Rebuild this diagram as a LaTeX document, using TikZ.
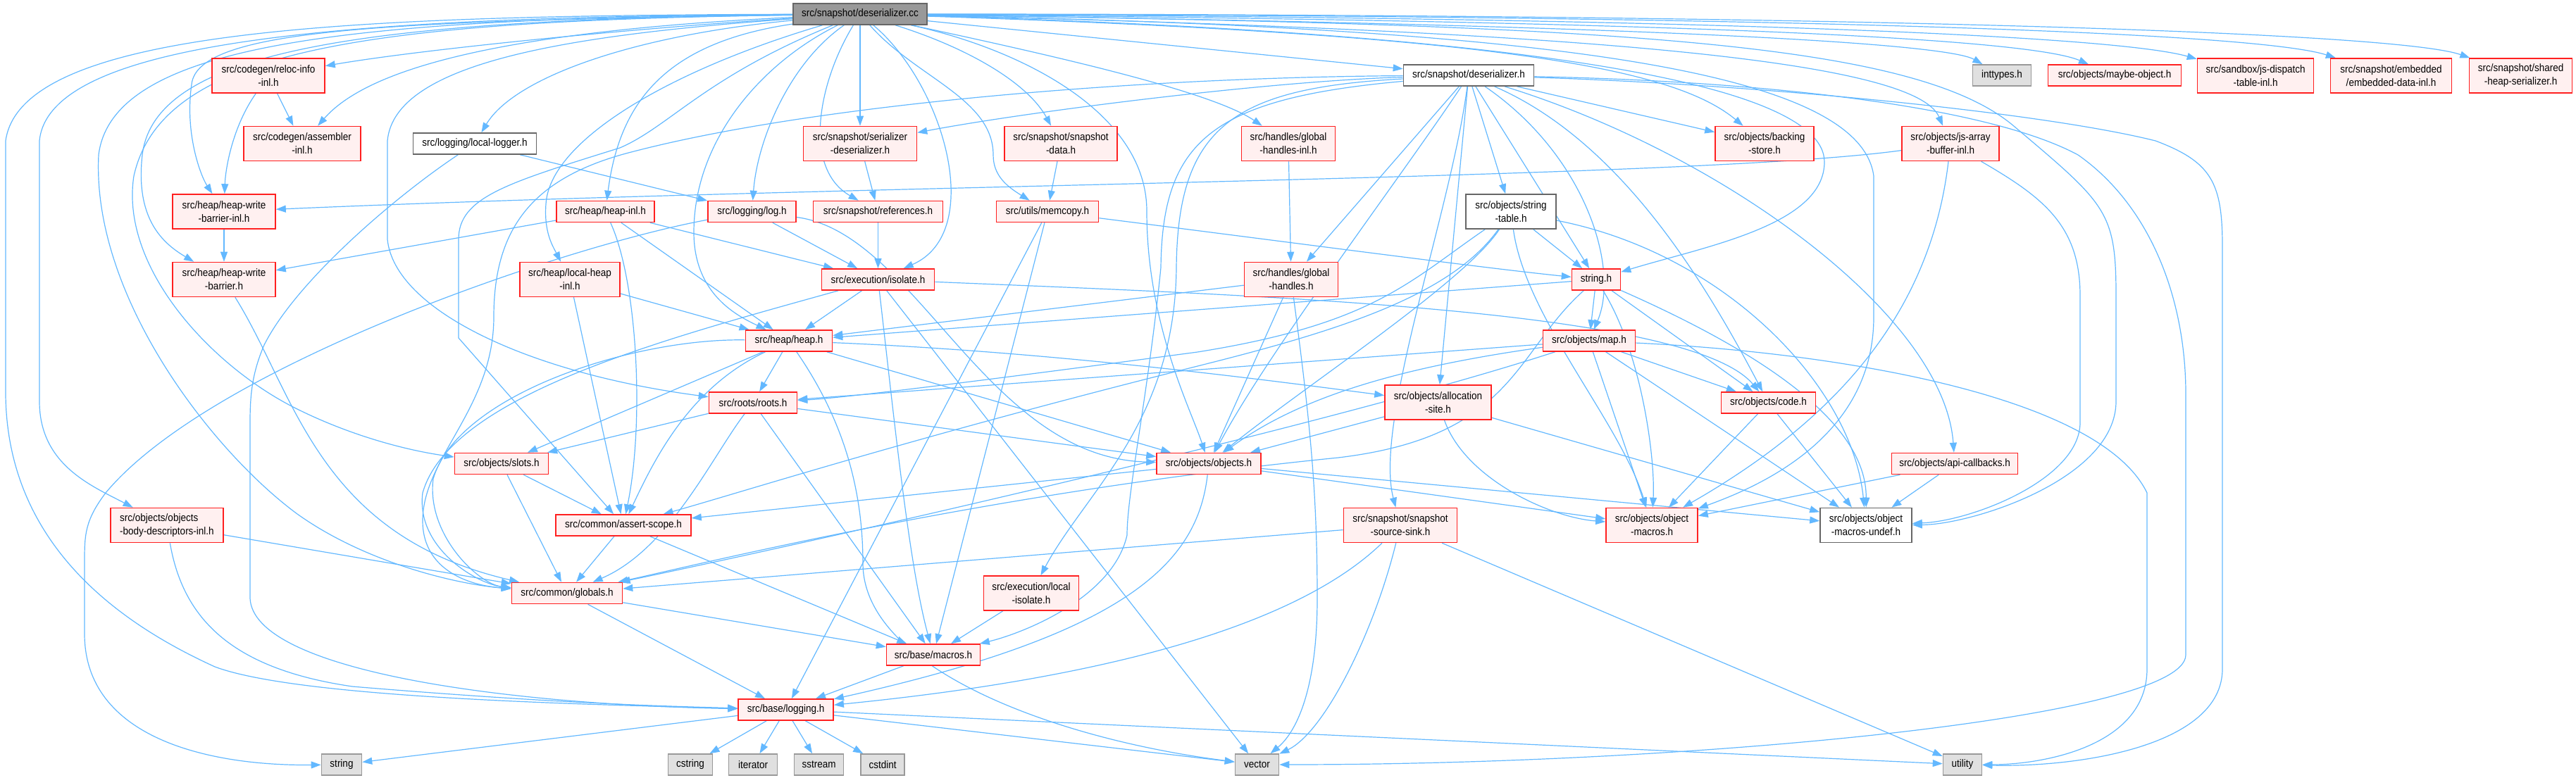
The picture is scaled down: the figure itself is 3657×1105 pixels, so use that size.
\documentclass[tikz,border=0pt]{standalone}
\usepackage{fontspec}
\setmainfont{Liberation Sans}[FakeStretch=0.9]
\usetikzlibrary{arrows.meta}
\definecolor{edgeblue}{HTML}{63B8FF}
\definecolor{boxred}{HTML}{FF2020}
\definecolor{boxfill}{HTML}{FFF0F0}
\definecolor{sysfill}{HTML}{E0E0E0}
\definecolor{sysline}{HTML}{999999}
\definecolor{rootfill}{HTML}{999999}
\definecolor{greyline}{HTML}{666666}
\pgfdeclarelayer{edges}
\pgfsetlayers{edges,main}
\tikzset{
  hdr/.style={draw=boxred, fill=boxfill, line width=1.6pt, inner sep=0pt, align=center,
    font=\fontsize{15}{19}\selectfont, minimum height=30pt},
  plain/.style={hdr, draw=greyline, fill=white},
  sys/.style={hdr, draw=sysline, fill=sysfill},
  root/.style={hdr, draw=greyline, fill=rootfill},
  two/.style={minimum height=49pt},
  edge/.style={draw=edgeblue, line width=1.2pt, -{Triangle[length=14pt,width=10pt]}},
}
\begin{document}
\begin{tikzpicture}[x=1pt,y=1pt,yscale=-1]
	\useasboundingbox (0,0) rectangle (3657,1105);

	% Root file
	\node [root, minimum width=190pt] (dcc) at (1221,20) {src/snapshot/deserializer.cc};
	% First rows
	\node [hdr, two, minimum width=160pt] (relocinl) at (381,107.5) {src/codegen/reloc-info\\-inl.h};
	\node [hdr, two, minimum width=166pt] (asminl) at (429,204) {src/codegen/assembler\\-inl.h};
	\node [plain, minimum width=175pt] (locallog) at (674,204) {src/logging/local-logger.h};
	\node [hdr, two, minimum width=146pt] (hwbinl) at (318,300.5) {src/heap/heap-write\\-barrier-inl.h};
	\node [hdr, minimum width=139pt] (heapinl) at (859.5,300.5) {src/heap/heap-inl.h};
	\node [hdr, two, minimum width=146pt] (hwb) at (318,397) {src/heap/heap-write\\-barrier.h};
	\node [hdr, two, minimum width=142pt] (lheapinl) at (809,397) {src/heap/local-heap\\-inl.h};
	\node [hdr, two, minimum width=161pt] (serdes) at (1221,204) {src/snapshot/serializer\\-deserializer.h};
	\node [hdr, two, minimum width=160pt] (sdata) at (1506,204) {src/snapshot/snapshot\\-data.h};
	\node [hdr, two, minimum width=133pt] (ghinl) at (1829,204) {src/handles/global\\-handles-inl.h};
	\node [hdr, minimum width=125pt] (logh) at (1067.5,300.5) {src/logging/log.h};
	\node [hdr, minimum width=184pt] (refs) at (1246.5,300.5) {src/snapshot/references.h};
	\node [hdr, minimum width=145pt] (memcopy) at (1487,300.5) {src/utils/memcopy.h};
	\node [plain, minimum width=185pt] (desh) at (2085,107) {src/snapshot/deserializer.h};
	\node [hdr, two, minimum width=140pt] (backing) at (2505,204) {src/objects/backing\\-store.h};
	\node [hdr, two, minimum width=138pt] (jsab) at (2769,204) {src/objects/js-array\\-buffer-inl.h};
	\node [plain, two, minimum width=128pt] (strtab) at (2145,300.5) {src/objects/string\\-table.h};
	\node [hdr, two, minimum width=133pt] (gh) at (1833,397) {src/handles/global\\-handles.h};
	\node [sys, minimum width=83pt] (inttypes) at (2842,107) {inttypes.h};
	\node [hdr, minimum width=189pt] (maybeobj) at (3002,107) {src/objects/maybe-object.h};
	\node [hdr, two, minimum width=165pt] (jsdisp) at (3202,107.5) {src/sandbox/js-dispatch\\-table-inl.h};
	\node [hdr, two, minimum width=172pt] (embdata) at (3394.5,107.5) {src/snapshot/embedded\\/embedded-data-inl.h};
	\node [hdr, two, minimum width=146pt] (shheap) at (3578.5,107.5) {src/snapshot/shared\\-heap-serializer.h};
	% Middle rows
	\node [hdr, minimum width=160pt] (isolate) at (1246.5,397) {src/execution/isolate.h};
	\node [hdr, minimum width=123pt] (heaph) at (1120,484) {src/heap/heap.h};
	\node [hdr, minimum width=125pt] (roots) at (1069,572) {src/roots/roots.h};
	\node [hdr, minimum width=148pt] (objects) at (1716,658.5) {src/objects/objects.h};
	\node [hdr, minimum width=69pt] (stringh) at (2266,397) {string.h};
	\node [hdr, minimum width=131pt] (maph) at (2256,484) {src/objects/map.h};
	\node [hdr, two, minimum width=151pt] (allocsite) at (2041.5,571.5) {src/objects/allocation\\-site.h};
	\node [hdr, minimum width=134pt] (code) at (2510.5,572) {src/objects/code.h};
	\node [hdr, minimum width=179pt] (apicb) at (2775,658.5) {src/objects/api-callbacks.h};
	\node [hdr, minimum width=133pt] (slots) at (712,658.5) {src/objects/slots.h};
	\node [hdr, two, minimum width=161pt] (sss) at (1988,746) {src/snapshot/snapshot\\-source-sink.h};
	\node [hdr, two, minimum width=130pt] (omacros) at (2345,746) {src/objects/object\\-macros.h};
	\node [plain, two, minimum width=130pt] (oundef) at (2649,746) {src/objects/object\\-macros-undef.h};
	\node [hdr, two, minimum width=160pt, align=left] (obd) at (237,746) {src/objects/objects\\-body-descriptors-inl.h};
	\node [hdr, minimum width=192pt] (assert) at (885,746) {src/common/assert-scope.h};
	\node [hdr, minimum width=157pt] (globals) at (805,842.5) {src/common/globals.h};
	\node [hdr, two, minimum width=135pt] (localiso) at (1464,842.5) {src/execution/local\\-isolate.h};
	\node [hdr, minimum width=133pt] (macros) at (1325,930) {src/base/macros.h};
	\node [hdr, minimum width=135pt] (logging) at (1115.6,1008) {src/base/logging.h};
	% System headers
	\node [sys, minimum width=57pt] (stdstring) at (485,1086) {string};
	\node [sys, minimum width=63pt] (cstring) at (980,1086) {cstring};
	\node [sys, minimum width=69pt] (iterator) at (1069,1086) {iterator};
	\node [sys, minimum width=70pt] (sstream) at (1162.6,1086) {sstream};
	\node [sys, minimum width=62pt] (cstdint) at (1253,1086) {cstdint};
	\node [sys, minimum width=62pt] (vector) at (1784.5,1086) {vector};
	\node [sys, minimum width=55pt] (utility) at (2786,1086) {utility};

	\begin{pgfonlayer}{edges}
	% deserializer.cc, left side
	\draw [edge] (dcc) .. controls (500,22) and (30,40) .. (8,200) -- (8,560) .. controls (10,780) and (180,890) .. (305,947) .. controls (420,990) and (800,1000) .. (logging);
	\draw [edge] (dcc) .. controls (500,24) and (70,55) .. (56,200) -- (56,570) .. controls (56,660) and (130,690) .. (obd);
	\draw [edge] (dcc) .. controls (500,26) and (160,60) .. (140,220) .. controls (130,420) and (300,640) .. (422,730) .. controls (520,800) and (650,830) .. (globals);
	\draw [edge] (dcc) .. controls (520,28) and (220,70) .. (202,220) .. controls (192,310) and (230,345) .. (hwb);
	\draw [edge] (dcc) .. controls (520,30) and (230,70) .. (190,250) .. controls (170,380) and (300,520) .. (420,580) .. controls (500,620) and (580,640) .. (slots);
	\draw [edge] (dcc) .. controls (550,30) and (280,40) .. (272,120) .. controls (262,190) and (285,250) .. (hwbinl);
	\draw [edge] (dcc) .. controls (900,40) and (600,70) .. (relocinl);
	\draw [edge] (dcc) .. controls (700,45) and (520,100) .. (asminl);
	\draw [edge] (dcc) .. controls (900,50) and (730,110) .. (locallog);
	\draw [edge] (dcc) .. controls (800,50) and (560,90) .. (550,200) -- (550,340) .. controls (560,440) and (750,530) .. (roots);
	\draw [edge] (dcc) .. controls (1000,110) and (950,180) .. (880,210) .. controls (720,260) and (651,280) .. (651,340) -- (651,480) -- (assert);
	\draw [edge] (dcc) .. controls (950,60) and (880,140) .. (heapinl);
	\draw [edge] (dcc) .. controls (950,100) and (780,200) .. (775,290) .. controls (772,330) and (785,350) .. (lheapinl);
	\draw [edge] (dcc) .. controls (1080,90) and (985,200) .. (985,330) .. controls (985,420) and (1050,450) .. (heaph);
	\draw [edge] (dcc) .. controls (1120,90) and (1075,200) .. (logh);
	\draw [edge] (dcc) .. controls (1160,120) and (1140,240) .. (refs);
	\draw [edge] (dcc) -- (serdes);
	% deserializer.cc, right side
	\draw [edge] (dcc) .. controls (1380,70) and (1460,120) .. (sdata);
	\draw [edge] (dcc) .. controls (1300,110) and (1410,140) .. (1410,220) .. controls (1410,250) and (1430,265) .. (memcopy);
	\draw [edge] (dcc) .. controls (1340,120) and (1400,330) .. (isolate);
	\draw [edge] (dcc) .. controls (1500,80) and (1720,130) .. (ghinl);
	\draw [edge] (dcc) -- (desh);
	\draw [edge] (dcc) .. controls (2150,50) and (2380,100) .. (backing);
	\draw [edge] (dcc) .. controls (2300,45) and (2720,90) .. (jsab);
	\draw [edge] (dcc) .. controls (2300,35) and (2760,60) .. (inttypes);
	\draw [edge] (dcc) .. controls (2400,30) and (2880,55) .. (maybeobj);
	\draw [edge] (dcc) .. controls (2400,25) and (3000,50) .. (jsdisp);
	\draw [edge] (dcc) .. controls (2500,22) and (3200,45) .. (embdata);
	\draw [edge] (dcc) .. controls (2600,20) and (3400,45) .. (shheap);
	\draw [edge] (dcc) .. controls (2100,45) and (2590,110) .. (2590,230) .. controls (2590,320) and (2420,350) .. (stringh);
	\draw [edge] (dcc) .. controls (1450,70) and (1628,160) .. (1628,300) .. controls (1628,460) and (1690,580) .. (objects);
	\draw [edge] (dcc) .. controls (2200,40) and (2640,100) .. (2660,250) -- (2660,450) .. controls (2660,620) and (2500,690) .. (omacros);
	\draw [edge] (dcc) .. controls (2300,35) and (2720,60) .. (2860,180) .. controls (2990,290) and (3004,300) .. (3004,420) -- (3004,570) .. controls (3004,680) and (2800,745) .. (oundef);

	% upper headers
	\draw [edge] (relocinl) -- (asminl);
	\draw [edge] (relocinl) .. controls (330,180) and (320,240) .. (hwbinl);
	\draw [edge] (locallog) -- (logh);
	\draw [edge] (locallog) .. controls (560,280) and (420,400) .. (375,490) .. controls (358,530) and (355,560) .. (355,600) -- (355,850) .. controls (360,950) and (700,1000) .. (logging);
	\draw [edge] (hwbinl) -- (hwb);
	\draw [edge] (jsab) .. controls (2400,255) and (1200,262) .. (hwbinl);
	\draw [edge] (heapinl) -- (hwb);
	\draw [edge] (heapinl) -- (isolate);
	\draw [edge] (heapinl) -- (heaph);
	\draw [edge] (heapinl) .. controls (905,400) and (915,600) .. (assert);
	\draw [edge] (lheapinl) -- (heaph);
	\draw [edge] (lheapinl) -- (assert);
	\draw [edge] (hwb) .. controls (420,560) and (450,760) .. (globals);
	\draw [edge] (serdes) -- (refs);
	\draw [edge] (sdata) -- (memcopy);
	\draw [edge] (ghinl) -- (gh);
	\draw [edge] (logh) -- (isolate);
	\draw [edge] (logh) .. controls (800,350) and (300,520) .. (150,700) .. controls (120,740) and (120,760) .. (120,800) -- (120,900) .. controls (120,1050) and (300,1088) .. (stdstring);
	\draw [edge] (logh) .. controls (1300,330) and (1400,650) .. (objects);
	\draw [edge] (refs) -- (isolate);
	\draw [edge] (memcopy) .. controls (1800,340) and (2100,380) .. (stringh);
	\draw [edge] (memcopy) -- (logging);
	\draw [edge] (memcopy) -- (macros);

	% deserializer.h
	\draw [edge] (desh) .. controls (1800,115) and (1450,160) .. (serdes);
	\draw [edge] (desh) -- (backing);
	\draw [edge] (desh) -- (strtab);
	\draw [edge] (desh) -- (gh);
	\draw [edge] (desh) -- (allocsite);
	\draw [edge] (desh) -- (stringh);
	\draw [edge] (desh) .. controls (2250,220) and (2300,380) .. (maph);
	\draw [edge] (desh) .. controls (2300,200) and (2420,400) .. (code);
	\draw [edge] (desh) .. controls (2060,300) and (1950,600) .. (sss);
	\draw [edge] (desh) .. controls (1990,250) and (1800,500) .. (objects);
	\draw [edge] (desh) .. controls (2450,220) and (2760,450) .. (apicb);
	\draw [edge] (desh) .. controls (1750,125) and (1672,180) .. (1670,380) .. controls (1668,600) and (1540,700) .. (localiso);
	\draw [edge] (desh) .. controls (1720,140) and (1650,200) .. (1648,380) .. controls (1630,560) and (1600,700) .. (1600,760) .. controls (1580,850) and (1450,900) .. (macros);
	\draw [edge] (desh) .. controls (1600,110) and (1150,150) .. (900,215) .. controls (760,250) and (701,320) .. (701,450) .. controls (701,580) and (600,650) .. (600,740) .. controls (600,800) and (650,830) .. (globals);
	\draw [edge] (desh) .. controls (2500,120) and (2900,160) .. (3060,200) .. controls (3140,230) and (3155,260) .. (3155,350) -- (3155,950) .. controls (3155,1060) and (2950,1090) .. (utility);
	\draw [edge] (desh) .. controls (2500,115) and (2820,150) .. (2950,220) .. controls (3050,290) and (3103,420) .. (3103,560) -- (3103,930) .. controls (3103,1020) and (2400,1086) .. (vector);

	% middle headers
	\draw [edge] (strtab) -- (stringh);
	\draw [edge] (strtab) .. controls (2000,400) and (1950,460) .. (1700,500) .. controls (1400,540) and (1200,565) .. (roots);
	\draw [edge] (strtab) .. controls (2080,400) and (1850,550) .. (objects);
	\draw [edge] (strtab) .. controls (2165,450) and (2300,600) .. (omacros);
	\draw [edge] (strtab) .. controls (2450,360) and (2630,550) .. (oundef);
	\draw [edge] (strtab) .. controls (2060,420) and (1900,470) .. (1700,520) .. controls (1300,620) and (1050,700) .. (assert);
	\draw [edge] (gh) -- (heaph);
	\draw [edge] (gh) -- (objects);
	\draw [edge] (gh) .. controls (1860,600) and (1870,700) .. (1870,850) .. controls (1870,980) and (1840,1040) .. (vector);
	\draw [edge] (isolate) -- (heaph);
	\draw [edge] (isolate) .. controls (950,480) and (640,560) .. (600,700) .. controls (590,780) and (680,830) .. (globals);
	\draw [edge] (isolate) .. controls (1270,600) and (1290,800) .. (macros);
	\draw [edge] (isolate) -- (vector);
	\draw [edge] (isolate) .. controls (1800,420) and (2400,440) .. (code);
	\draw [edge] (heaph) -- (roots);
	\draw [edge] (heaph) -- (objects);
	\draw [edge] (heaph) .. controls (900,480) and (650,560) .. (615,680) .. controls (605,760) and (680,830) .. (globals);
	\draw [edge] (heaph) .. controls (980,550) and (930,650) .. (assert);
	\draw [edge] (heaph) .. controls (1200,600) and (1225,700) .. (1225,800) .. controls (1225,950) and (1500,1050) .. (vector);
	\draw [edge] (heaph) .. controls (1500,500) and (1800,540) .. (allocsite);
	\draw [edge] (heaph) -- (slots);
	\draw [edge] (roots) -- (slots);
	\draw [edge] (roots) -- (objects);
	\draw [edge] (roots) .. controls (1010,650) and (950,780) .. (globals);
	\draw [edge] (roots) -- (macros);
	\draw [edge] (stringh) -- (heaph);
	\draw [edge] (stringh) -- (maph);
	\draw [edge] (stringh) -- (code);
	\draw [edge] (stringh) .. controls (2330,500) and (2350,650) .. (omacros);
	\draw [edge] (stringh) .. controls (2500,500) and (2650,600) .. (oundef);
	\draw [edge] (stringh) .. controls (2150,500) and (2150,620) .. (1900,650) .. controls (1400,700) and (1000,800) .. (globals);
	\draw [edge] (maph) -- (roots);
	\draw [edge] (maph) .. controls (2000,520) and (1850,560) .. (objects);
	\draw [edge] (maph) -- (code);
	\draw [edge] (maph) -- (omacros);
	\draw [edge] (maph) -- (oundef);
	\draw [edge] (maph) .. controls (1900,600) and (1200,760) .. (globals);
	\draw [edge] (maph) .. controls (2600,500) and (2980,560) .. (3048,700) -- (3048,950) .. controls (3048,1060) and (2900,1086) .. (utility);
	\draw [edge] (allocsite) -- (objects);
	\draw [edge] (allocsite) .. controls (2080,680) and (2200,735) .. (omacros);
	\draw [edge] (allocsite) -- (oundef);
	\draw [edge] (code) -- (omacros);
	\draw [edge] (code) -- (oundef);
	\draw [edge] (apicb) -- (omacros);
	\draw [edge] (apicb) -- (oundef);
	\draw [edge] (jsab) .. controls (2900,280) and (2953,320) .. (2953,420) -- (2953,600) .. controls (2953,680) and (2800,740) .. (oundef);
	\draw [edge] (jsab) .. controls (2740,450) and (2600,600) .. (omacros);
	\draw [edge] (objects) -- (assert);
	\draw [edge] (objects) .. controls (1700,800) and (1600,900) .. (logging);
	\draw [edge] (objects) -- (omacros);
	\draw [edge] (objects) -- (oundef);

	% lower headers
	\draw [edge] (slots) -- (globals);
	\draw [edge] (slots) -- (assert);
	\draw [edge] (obd) -- (globals);
	\draw [edge] (obd) .. controls (260,880) and (330,950) .. (500,975) .. controls (800,1000) and (950,1003) .. (logging);
	\draw [edge] (assert) -- (globals);
	\draw [edge] (assert) -- (macros);
	\draw [edge] (globals) -- (logging);
	\draw [edge] (globals) -- (macros);
	\draw [edge] (localiso) -- (macros);
	\draw [edge] (sss) -- (globals);
	\draw [edge] (sss) .. controls (1850,880) and (1600,960) .. (logging);
	\draw [edge] (sss) .. controls (1950,900) and (1880,1040) .. (vector);
	\draw [edge] (sss) -- (utility);
	\draw [edge] (macros) -- (logging);
	\draw [edge] (logging) -- (cstring);
	\draw [edge] (logging) -- (iterator);
	\draw [edge] (logging) -- (sstream);
	\draw [edge] (logging) -- (cstdint);
	\draw [edge] (logging) -- (vector);
	\draw [edge] (logging) -- (utility);
	\draw [edge] (logging) -- (stdstring);
	\end{pgfonlayer}
\end{tikzpicture}
\end{document}
